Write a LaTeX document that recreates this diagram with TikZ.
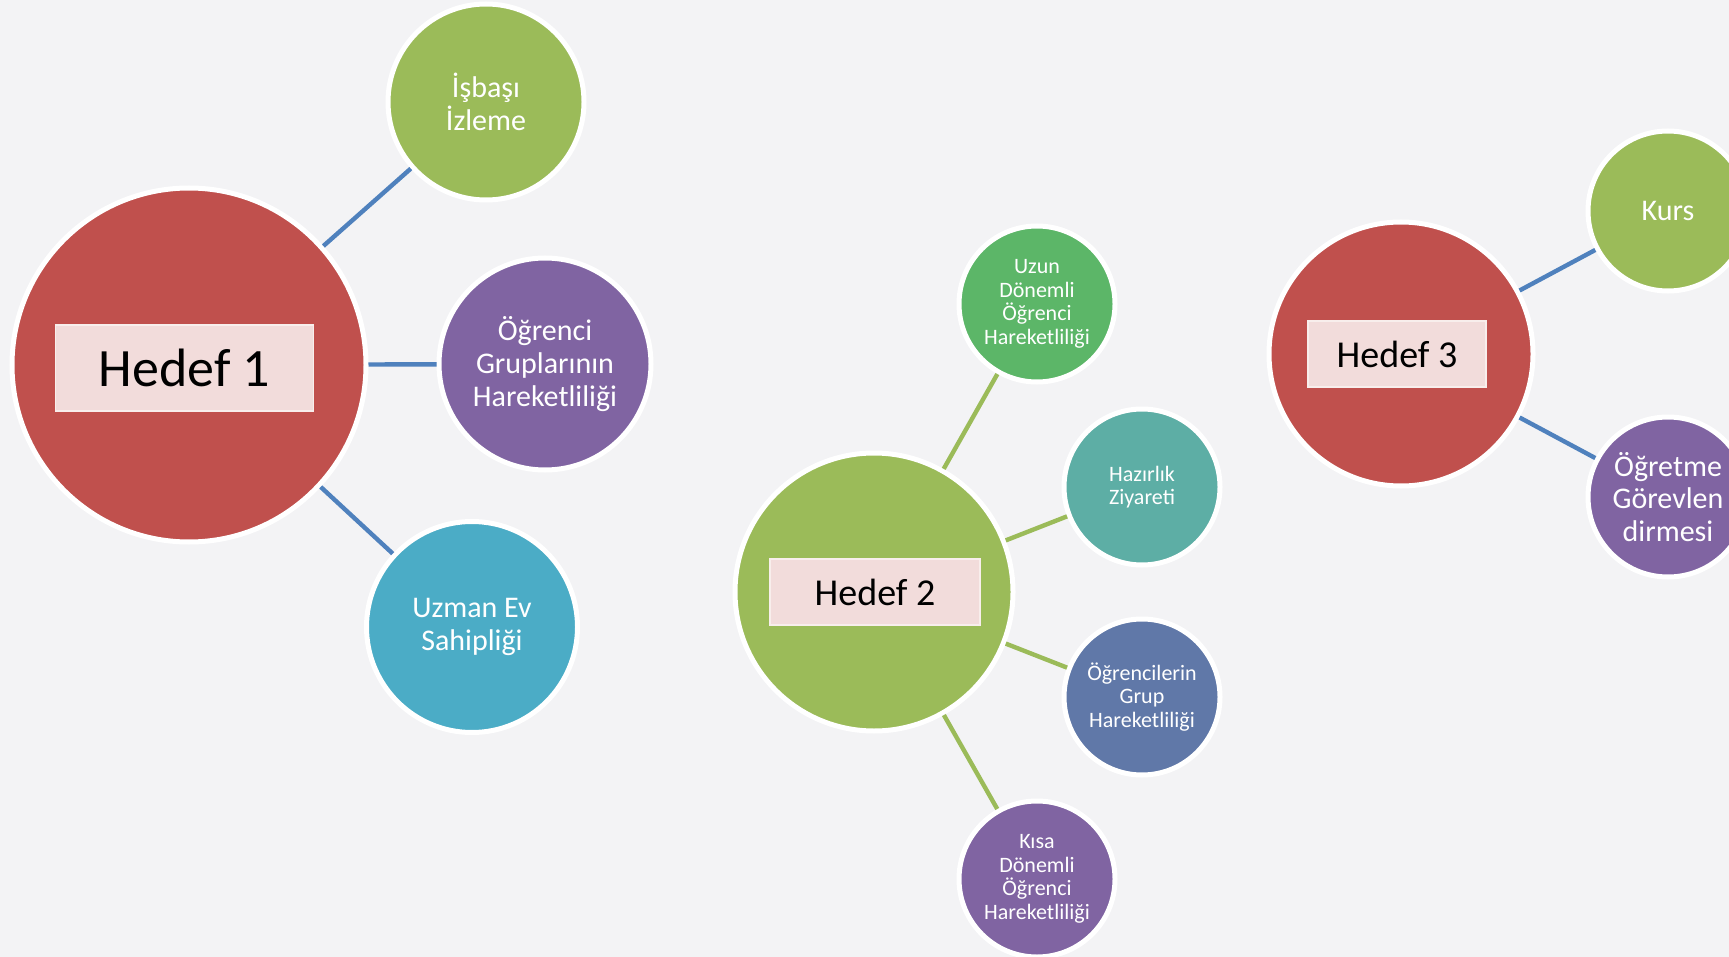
\documentclass[tikz,border=0pt]{standalone}
\usepackage{fontspec}
\setmainfont{Carlito}
\begin{document}
\begin{tikzpicture}[x=0.5pt, y=-0.5pt,
  hub/.style={circle, draw=white, line width=2.5pt, inner sep=0pt, text=white, align=center},
  leaf/.style={hub, font=\fontsize{15}{16.3}\selectfont},
  smallleaf/.style={hub, minimum size=78pt, font=\fontsize{11}{11.8}\selectfont},
  goalbox/.style={rectangle, fill=boxfill, draw=boxline, line width=0.8pt, inner sep=0pt, text=black},
  link/.style={line width=2.2pt}]
  % Define colors
  \definecolor{bgcolor}{RGB}{243,243,245}
  \definecolor{hubred}{RGB}{192,80,77}
  \definecolor{leafgreen}{RGB}{155,187,89}
  \definecolor{leafpurple}{RGB}{128,100,162}
  \definecolor{leafaqua}{RGB}{75,172,198}
  \definecolor{leafmint}{RGB}{92,182,104}
  \definecolor{leafteal}{RGB}{93,174,165}
  \definecolor{leafblue}{RGB}{96,120,168}
  \definecolor{boxfill}{RGB}{242,220,219}
  \definecolor{boxline}{RGB}{248,238,236}
  \definecolor{linkblue}{RGB}{79,129,189}

  % Background
  \useasboundingbox (0,0) rectangle (1729,957);
  \clip (0,0) rectangle (1729,957);
  \fill[bgcolor] (0,0) rectangle (1729,957);

  % Hedef 1
  \node[hub, fill=hubred, minimum size=177pt] (h1) at (189,365) {};
  \node[goalbox, minimum width=129pt, minimum height=43pt, font=\fontsize{27}{32}\selectfont] (h1box) at (184.5,368) {Hedef 1};
  \node[leaf, fill=leafgreen, minimum size=98pt] (isb) at (486,102) {İşbaşı\\İzleme};
  \node[leaf, fill=leafpurple, minimum size=106pt] (ogr) at (545,364) {Öğrenci\\Gruplarının\\Hareketliliği};
  \node[leaf, fill=leafaqua, minimum size=105.5pt] (uzm) at (472,627) {Uzman Ev\\Sahipliği};
  \draw[link, linkblue] (h1) -- (isb);
  \draw[link, linkblue] (h1) -- (ogr);
  \draw[link, linkblue] (h1) -- (uzm);

  % Hedef 2
  \node[hub, fill=leafgreen, minimum size=139pt] (h2) at (874,592) {};
  \node[goalbox, minimum width=105pt, minimum height=33pt, font=\fontsize{19}{23}\selectfont] (h2box) at (875,592) {Hedef 2};
  \node[smallleaf, fill=leafmint] (uzun) at (1037,304) {Uzun\\Dönemli\\Öğrenci\\Hareketliliği};
  \node[smallleaf, fill=leafteal] (haz) at (1142,487) {Hazırlık\\Ziyareti};
  \node[smallleaf, fill=leafblue] (ogg) at (1142,697) {Öğrencilerin\\Grup\\Hareketliliği};
  \node[smallleaf, fill=leafpurple] (kisa) at (1037,879) {Kısa\\Dönemli\\Öğrenci\\Hareketliliği};
  \draw[link, leafgreen] (h2) -- (uzun);
  \draw[link, leafgreen] (h2) -- (haz);
  \draw[link, leafgreen] (h2) -- (ogg);
  \draw[link, leafgreen] (h2) -- (kisa);

  % Hedef 3
  \node[hub, fill=hubred, minimum size=132pt] (h3) at (1401,354) {};
  \node[goalbox, minimum width=89pt, minimum height=33pt, font=\fontsize{19}{23}\selectfont] (h3box) at (1397,354) {Hedef 3};
  \node[leaf, fill=leafgreen, minimum size=80pt] (kurs) at (1668,211) {Kurs};
  \node[leaf, fill=leafpurple, minimum size=80pt] (ogt) at (1668,497) {Öğretme\\Görevlen\\dirmesi};
  \draw[link, linkblue] (h3) -- (kurs);
  \draw[link, linkblue] (h3) -- (ogt);
\end{tikzpicture}
\end{document}
